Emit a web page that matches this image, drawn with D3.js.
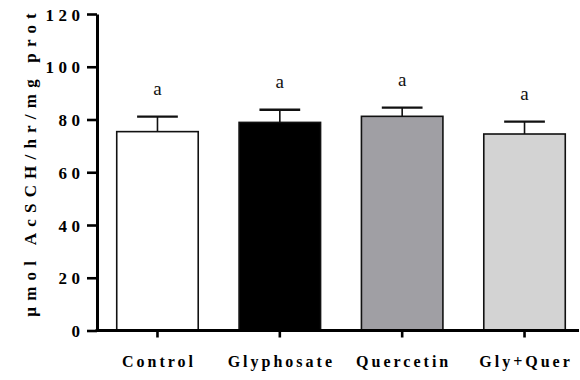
<!DOCTYPE html>
<html>
<head>
<meta charset="utf-8">
<script src="https://cdn.jsdelivr.net/npm/d3@7"></script>
<style>
  body { margin: 0; background: #fff; }
  svg { display: block; }
</style>
</head>
<body>
<script>
// AChE activity per group
var groups = ['Control', 'Glyphosate', 'Quercetin', 'Gly+Quer'];
var means = [75.4, 78.9, 81.2, 74.5];
var sems = [5.7, 4.8, 3.3, 4.7];
var letters = ['a', 'a', 'a', 'a'];
var fills = ['#ffffff', '#000000', '#a09fa4', '#d3d3d3'];
var yTicks = [0, 20, 40, 60, 80, 100, 120];

var width = 580, height = 380;
var serif = '"Liberation Serif", "Times New Roman", serif';

var svg = d3.select('body')
  .append('svg')
  .attr('width', width)
  .attr('height', height);

var y = d3.scaleLinear().domain([0, 120]).range([330.5, 14]);

var x = d3.scaleBand()
  .domain(groups)
  .range([96.3, 585.7])
  .paddingInner(0.334)
  .paddingOuter(0.167);

// bars
svg.selectAll('rect.bar')
  .data(groups)
  .enter()
  .append('rect')
    .attr('class', 'bar')
    .attr('x', function(d) { return x(d); })
    .attr('y', function(d, i) { return y(means[i]); })
    .attr('width', x.bandwidth())
    .attr('height', function(d, i) { return y(0) - y(means[i]); })
    .attr('fill', function(d, i) { return fills[i]; })
    .attr('stroke', '#111')
    .attr('stroke-width', 1.6);

// error bars (upper only)
var errs = svg.selectAll('g.err')
  .data(groups)
  .enter()
  .append('g')
    .attr('class', 'err');

errs.append('line')
  .attr('x1', function(d) { return x(d) + x.bandwidth() / 2; })
  .attr('x2', function(d) { return x(d) + x.bandwidth() / 2; })
  .attr('y1', function(d, i) { return y(means[i]); })
  .attr('y2', function(d, i) { return y(means[i] + sems[i]); })
  .attr('stroke', '#111')
  .attr('stroke-width', 1.6);

errs.append('line')
  .attr('x1', function(d) { return x(d) + x.bandwidth() / 4; })
  .attr('x2', function(d) { return x(d) + x.bandwidth() * 3 / 4; })
  .attr('y1', function(d, i) { return y(means[i] + sems[i]); })
  .attr('y2', function(d, i) { return y(means[i] + sems[i]); })
  .attr('stroke', '#111')
  .attr('stroke-width', 2.4);

// significance letters
svg.selectAll('text.sig')
  .data(groups)
  .enter()
  .append('text')
    .attr('class', 'sig')
    .attr('x', function(d) { return x(d) + x.bandwidth() / 2; })
    .attr('y', function(d, i) { return y(means[i] + sems[i]) - 21.5; })
    .attr('text-anchor', 'middle')
    .style('font-family', serif)
    .style('font-size', '19px')
    .attr('fill', '#111')
    .text(function(d, i) { return letters[i]; });

// y axis
var yAxis = svg.append('g')
  .attr('transform', 'translate(97,0)')
  .call(d3.axisLeft(y).tickValues(yTicks).tickSize(10).tickSizeOuter(0).tickPadding(7));

yAxis.select('.domain').attr('stroke', '#000').attr('stroke-width', 3);
yAxis.selectAll('.tick line').attr('stroke', '#000').attr('stroke-width', 2.6);
yAxis.selectAll('.tick text')
  .style('font-family', serif)
  .style('font-weight', 'bold')
  .style('font-size', '17px')
  .style('letter-spacing', '4.5px')
  .attr('dx', 4.5)
  .attr('dy', '0.36em')
  .attr('fill', '#000');

// x axis
var xAxis = svg.append('g')
  .attr('transform', 'translate(0,330.5)')
  .call(d3.axisBottom(x).tickSize(7).tickSizeOuter(0).tickPadding(18));

xAxis.select('.domain').remove();
xAxis.append('line')
  .attr('x1', 95.5)
  .attr('x2', 579)
  .attr('stroke', '#000')
  .attr('stroke-width', 3);
xAxis.selectAll('.tick line').attr('stroke', '#000').attr('stroke-width', 2.6);
xAxis.selectAll('.tick text')
  .style('font-family', serif)
  .style('font-weight', 'bold')
  .style('font-size', '16px')
  .style('letter-spacing', '3px')
  .attr('dx', 1.5)
  .attr('fill', '#000');

// y title
svg.append('text')
  .attr('transform', 'translate(36,165) rotate(-90)')
  .attr('text-anchor', 'middle')
  .style('font-family', serif)
  .style('font-weight', 'bold')
  .style('font-size', '17px')
  .style('letter-spacing', '6.2px')
  .attr('dx', 3.1)
  .attr('fill', '#000')
  .text('\u00b5mol AcSCH/hr/mg prot');
</script>
</body>
</html>
